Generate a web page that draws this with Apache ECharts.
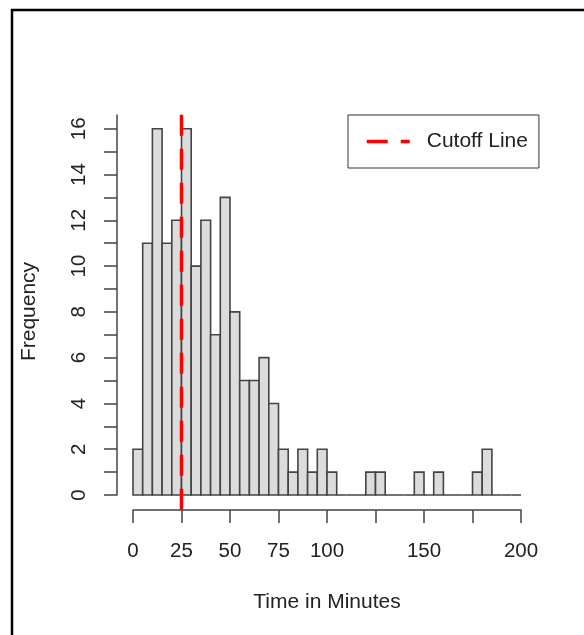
<!DOCTYPE html>
<html>
<head>
<meta charset="utf-8">
<script src="https://cdn.jsdelivr.net/npm/echarts@6/dist/echarts.min.js"></script>
<style>
  html, body { margin: 0; padding: 0; background: #fff; }
  #chart { width: 584px; height: 635px; }
</style>
</head>
<body>
<div id="chart"></div>
<script>
// ---- data ----
const binStarts = [0, 5, 10, 15, 20, 25, 30, 35, 40, 45, 50, 55, 60, 65, 70, 75, 80, 85, 90, 95,
                   100, 105, 110, 115, 120, 125, 130, 135, 140, 145, 150, 155, 160, 165, 170, 175, 180, 185, 190, 195];
const binEnds   = [5, 10, 15, 20, 25, 30, 35, 40, 45, 50, 55, 60, 65, 70, 75, 80, 85, 90, 95, 100,
                   105, 110, 115, 120, 125, 130, 135, 140, 145, 150, 155, 160, 165, 170, 175, 180, 185, 190, 195, 200];
const counts    = [2, 11, 16, 11, 12, 16, 10, 12, 7, 13, 8, 5, 5, 6, 4, 2, 1, 2, 1, 2,
                   1, 0, 0, 0, 1, 1, 0, 0, 0, 1, 0, 1, 0, 0, 0, 1, 2, 0, 0, 0];
const cutoff = 25;
const cutoffSpan = [-0.64, 16.64];
const xTicks = [0, 25, 50, 75, 100, 125, 150, 175, 200];
const xLabels = [0, 25, 50, 75, 100, 150, 200];
const yTicks = [0, 1, 2, 3, 4, 5, 6, 7, 8, 9, 10, 11, 12, 13, 14, 15, 16];
const yLabels = [0, 2, 4, 6, 8, 10, 12, 14, 16];
const xTitle = 'Time in Minutes';
const yTitle = 'Frequency';
const legendName = 'Cutoff Line';

const histData = binStarts.map((s, i) => [s, binEnds[i], counts[i]]);
const FONT = '"Liberation Sans", Arial, Helvetica, sans-serif';
const AX = '#444';
const TXT = '#222';
const FS = 21;

const chart = echarts.init(document.getElementById('chart'), null, { renderer: 'canvas' });
chart.setOption({
  animation: false,
  backgroundColor: '#fff',
  textStyle: { fontFamily: FONT },
  grid: { left: 133, right: 63, top: 115, bottom: 140, containLabel: false },
  legend: {
    data: [legendName],
    left: 348, top: 115,
    orient: 'vertical',
    padding: [16, 11, 16, 17],
    itemWidth: 43, itemHeight: 20,
    borderColor: '#333', borderWidth: 1, backgroundColor: '#fff',
    itemStyle: { color: 'transparent', borderWidth: 0, opacity: 0 },
    lineStyle: { color: '#FF0000', width: 3.5, type: [21, 13] },
    textStyle: { fontSize: FS, color: TXT, fontFamily: FONT, padding: [0, 0, 0, 12] },
    selectedMode: false
  },
  xAxis: {
    type: 'value', min: 0, max: 200, interval: 25,
    offset: 15,
    splitLine: { show: false },
    axisLine: { show: true, onZero: false, lineStyle: { color: AX, width: 1.5 } },
    axisTick: { show: true, length: 13, customValues: xTicks, lineStyle: { color: AX, width: 1.5 } },
    axisLabel: { customValues: xLabels, fontSize: 20.5, color: TXT, margin: 30.5, fontFamily: FONT },
    name: xTitle, nameLocation: 'middle', nameGap: 82,
    nameTextStyle: { fontSize: FS, color: TXT, fontFamily: FONT }
  },
  yAxis: {
    type: 'value', min: 0, max: 16.6,
    offset: 16,
    splitLine: { show: false },
    axisLine: { show: true, onZero: false, lineStyle: { color: AX, width: 1.5 } },
    axisTick: { show: true, length: 13, customValues: yTicks, lineStyle: { color: AX, width: 1.5 } },
    axisLabel: { customValues: yLabels, rotate: 90, fontSize: 20.5, color: TXT, margin: 27.5, fontFamily: FONT },
    name: yTitle, nameLocation: 'middle', nameGap: 77, nameRotate: 90,
    nameTextStyle: { fontSize: FS, color: TXT, fontFamily: FONT, padding: [0, 13, 0, 0] }
  },
  series: [
    {
      type: 'custom',
      name: 'hist',
      data: histData,
      clip: false,
      renderItem: function (params, api) {
        const p0 = api.coord([api.value(0), api.value(2)]);
        const p1 = api.coord([api.value(1), 0]);
        return {
          type: 'rect',
          shape: { x: p0[0], y: p0[1], width: p1[0] - p0[0], height: p1[1] - p0[1] },
          style: { fill: '#DCDCDC', stroke: '#444', lineWidth: 1.6 }
        };
      },
      z: 2
    },
    {
      type: 'line',
      name: legendName,
      data: [[cutoff, cutoffSpan[0]], [cutoff, cutoffSpan[1]]],
      symbol: 'none',
      showSymbol: false,
      clip: false,
      color: '#FF0000',
      lineStyle: { color: '#FF0000', width: 3.5, type: [21, 13] },
      z: 5
    }
  ],
  graphic: [
    {
      type: 'rect',
      shape: { x: 12, y: 10, width: 800, height: 800 },
      style: { fill: 'none', stroke: '#000', lineWidth: 2.5 },
      silent: true
    }
  ]
});
</script>
</body>
</html>
